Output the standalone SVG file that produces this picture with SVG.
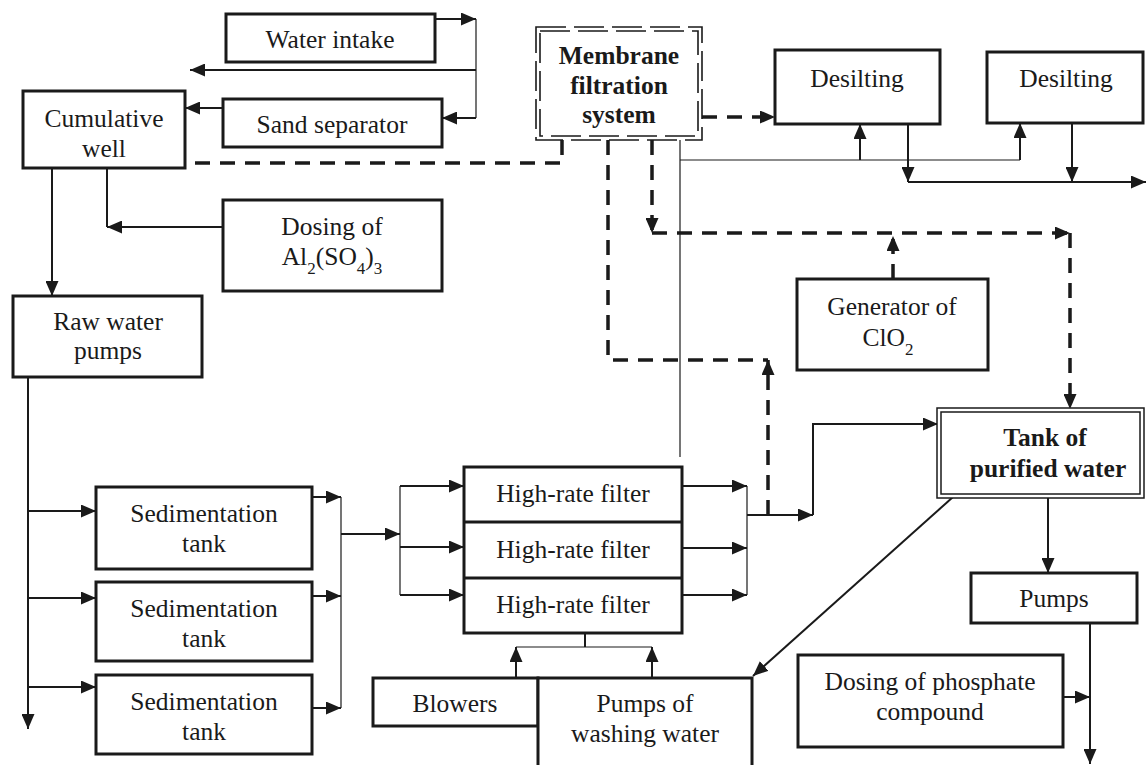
<svg xmlns="http://www.w3.org/2000/svg" width="1146" height="765" viewBox="0 0 1146 765">
<style>
.box{fill:#fff;stroke:#1a1a1a;stroke-width:3}
.t{font-family:"Liberation Serif","Times New Roman",serif;font-size:25.5px;fill:#1a1a1a;text-anchor:middle}
.b{font-weight:bold}
.sub{font-size:17px}
.c{fill:none;stroke:#1a1a1a;stroke-width:2}
.thin{fill:none;stroke:#1a1a1a;stroke-width:1.2}
.d{fill:none;stroke:#1a1a1a;stroke-width:3.5;stroke-dasharray:15 10}
.dd{fill:none;stroke:#1a1a1a;stroke-width:1.6;stroke-dasharray:30 8}
.dbl{fill:none;stroke:#1a1a1a;stroke-width:1.5}
</style>
<defs>
<marker id="a" markerUnits="userSpaceOnUse" markerWidth="15" markerHeight="13" refX="15" refY="6.5" orient="auto">
<path d="M0,0 L15,6.5 L0,13 z" fill="#1a1a1a"/>
</marker>
</defs>
<rect width="1146" height="765" fill="#fff"/>

<g id="connectors">
<path class="c" d="M435,19 H476" marker-end="url(#a)"/>
<path class="thin" d="M476,19 V118"/>
<path class="c" d="M476,70 H190" marker-end="url(#a)"/>
<path class="c" d="M476,118 H442" marker-end="url(#a)"/>
<path class="c" d="M223,108 H185" marker-end="url(#a)"/>
<path class="c" d="M52,168 V296" marker-end="url(#a)"/>
<path class="c" d="M107,168 V227"/>
<path class="c" d="M223,227 H107" marker-end="url(#a)"/>
<path class="c" d="M28,377 V729" marker-end="url(#a)"/>
<path class="c" d="M28,511 H96" marker-end="url(#a)"/>
<path class="c" d="M28,598 H96" marker-end="url(#a)"/>
<path class="c" d="M28,687 H96" marker-end="url(#a)"/>
<path class="c" d="M312,497 H341" marker-end="url(#a)"/>
<path class="c" d="M312,596 H341" marker-end="url(#a)"/>
<path class="c" d="M312,708 H341" marker-end="url(#a)"/>
<path class="thin" d="M341,497 V708"/>
<path class="c" d="M341,534 H400" marker-end="url(#a)"/>
<path class="thin" d="M400,486 V595"/>
<path class="c" d="M400,486 H464" marker-end="url(#a)"/>
<path class="c" d="M400,547 H464" marker-end="url(#a)"/>
<path class="c" d="M400,595 H464" marker-end="url(#a)"/>
<path class="c" d="M682,486 H747" marker-end="url(#a)"/>
<path class="c" d="M682,548 H747" marker-end="url(#a)"/>
<path class="c" d="M682,595 H747" marker-end="url(#a)"/>
<path class="thin" d="M747,486 V595"/>
<path class="c" d="M747,515 H813" marker-end="url(#a)"/>
<path class="c" d="M813,515 V424 H938" marker-end="url(#a)"/>
<path class="c" d="M585,633 V647"/>
<path class="thin" d="M516,647 H652"/>
<path class="c" d="M516,678 V647" marker-end="url(#a)"/>
<path class="c" d="M652,678 V647" marker-end="url(#a)"/>
<path class="c" d="M953,497 L753,676" marker-end="url(#a)"/>
<path class="c" d="M1048,497 V573" marker-end="url(#a)"/>
<path class="c" d="M1090,623 V764" marker-end="url(#a)"/>
<path class="c" d="M1063,697 H1090" marker-end="url(#a)"/>
<path class="thin" d="M680,140 V457"/>
<path class="thin" d="M680,160 H1020"/>
<path class="c" d="M860,160 V124" marker-end="url(#a)"/>
<path class="c" d="M1020,160 V123" marker-end="url(#a)"/>
<path class="c" d="M908,124 V182" marker-end="url(#a)"/>
<path class="c" d="M908,182 H1146" marker-end="url(#a)"/>
<path class="c" d="M1072,123 V182" marker-end="url(#a)"/>
<path class="d" d="M702,117 H775" marker-end="url(#a)"/>
<path class="d" d="M562,140 V163 H193"/>
<path class="d" d="M608,140 V360 H768"/>
<path class="d" d="M768,515 V360" marker-end="url(#a)"/>
<path class="d" d="M652,140 V233" marker-end="url(#a)"/>
<path class="d" d="M652,233 H1070" marker-end="url(#a)"/>
<path class="d" d="M1070,233 V409" marker-end="url(#a)"/>
<path class="d" d="M893,279 V236" marker-end="url(#a)"/>
</g>

<g id="water-intake"><rect class="box" x="226" y="14" width="209" height="48"/><text class="t" x="330" y="48">Water intake</text></g>
<g id="sand-separator"><rect class="box" x="223" y="99" width="219" height="48"/><text class="t" x="332" y="133">Sand separator</text></g>
<g id="cumulative-well"><rect class="box" x="23" y="91" width="162" height="77"/><text class="t" x="104" y="127">Cumulative</text><text class="t" x="104" y="157">well</text></g>
<g id="dosing-al"><rect class="box" x="223" y="200" width="219" height="91"/><text class="t" x="332" y="235">Dosing of</text><text class="t" x="332" y="265">Al<tspan class="sub" dy="9">2</tspan><tspan dy="-9">(SO</tspan><tspan class="sub" dy="9">4</tspan><tspan dy="-9">)</tspan><tspan class="sub" dy="9">3</tspan></text></g>
<g id="raw-water-pumps"><rect class="box" x="13" y="296" width="189" height="81"/><text class="t" x="108" y="330">Raw water</text><text class="t" x="108" y="359">pumps</text></g>
<g id="sed-1"><rect class="box" x="96" y="487" width="216" height="82"/><text class="t" x="204" y="522">Sedimentation</text><text class="t" x="204" y="552">tank</text></g>
<g id="sed-2"><rect class="box" x="96" y="582" width="216" height="79"/><text class="t" x="204" y="617">Sedimentation</text><text class="t" x="204" y="647">tank</text></g>
<g id="sed-3"><rect class="box" x="96" y="675" width="216" height="79"/><text class="t" x="204" y="710">Sedimentation</text><text class="t" x="204" y="740">tank</text></g>
<g id="filters"><rect class="box" x="464" y="467" width="218" height="166"/><path class="box" d="M464,522 H682 M464,578 H682"/>
<text class="t" x="573" y="502">High-rate filter</text><text class="t" x="573" y="558">High-rate filter</text><text class="t" x="573" y="613">High-rate filter</text></g>
<g id="blowers"><rect class="box" x="373" y="678" width="165" height="48"/><text class="t" x="455" y="712">Blowers</text></g>
<g id="washing-pumps"><rect class="box" x="538" y="678" width="214" height="100"/><text class="t" x="645" y="712">Pumps of</text><text class="t" x="645" y="742">washing water</text></g>
<g id="membrane"><rect x="536" y="27" width="166" height="113" fill="#fff"/><rect class="dd" x="536" y="27" width="166" height="113"/><rect class="dd" x="540" y="31" width="158" height="105"/>
<text class="t b" x="619" y="64">Membrane</text><text class="t b" x="619" y="94">filtration</text><text class="t b" x="619" y="123">system</text></g>
<g id="desilting-1"><rect class="box" x="775" y="50" width="165" height="74"/><text class="t" x="857" y="87">Desilting</text></g>
<g id="desilting-2"><rect class="box" x="987" y="52" width="156" height="71"/><text class="t" x="1066" y="87">Desilting</text></g>
<g id="generator"><rect class="box" x="797" y="279" width="191" height="91"/><text class="t" x="892" y="315">Generator of</text><text class="t" x="888" y="346">ClO<tspan class="sub" dy="9">2</tspan></text></g>
<g id="tank"><rect x="937" y="408" width="207" height="90" fill="#fff"/><rect class="dbl" x="937" y="408" width="207" height="90"/><rect class="dbl" x="941" y="412" width="199" height="82"/>
<text class="t b" x="1045" y="446">Tank of</text><text class="t b" x="1048" y="477">purified water</text></g>
<g id="pumps"><rect class="box" x="971" y="573" width="166" height="50"/><text class="t" x="1054" y="607">Pumps</text></g>
<g id="dosing-phosphate"><rect class="box" x="798" y="655" width="265" height="92"/><text class="t" x="930" y="690">Dosing of phosphate</text><text class="t" x="930" y="720">compound</text></g>
</svg>
